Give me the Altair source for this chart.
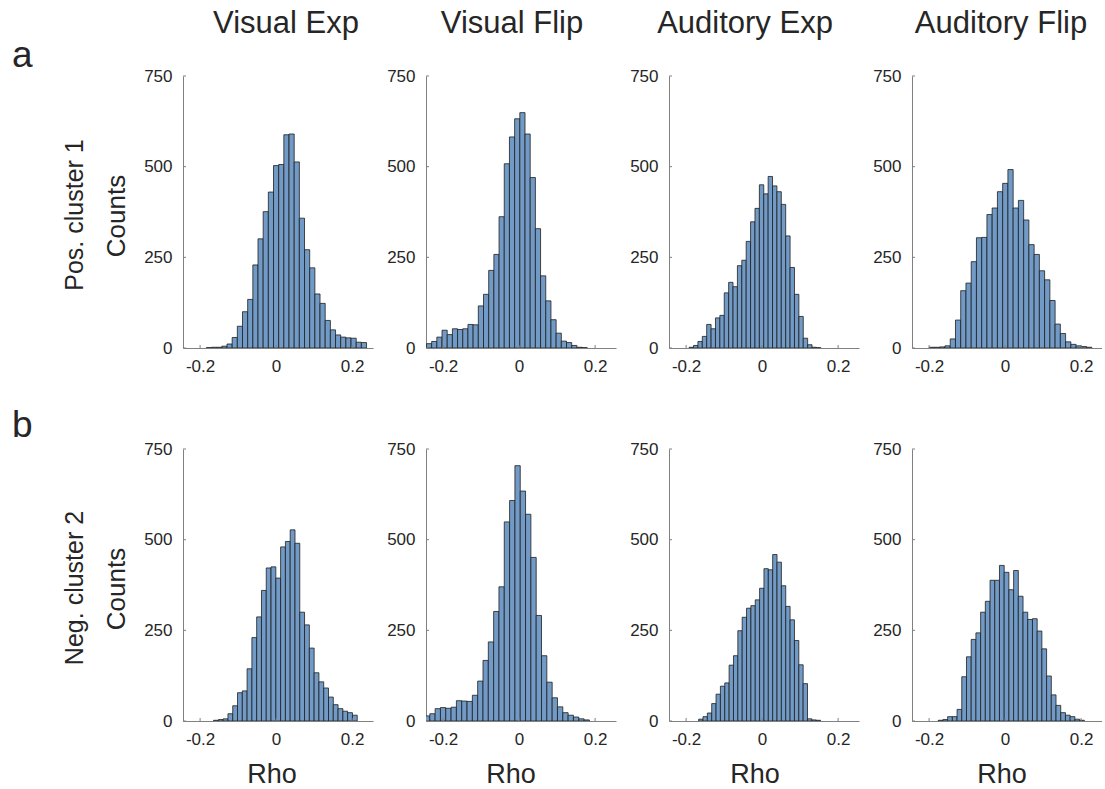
import altair as alt
import numpy as np
import pandas as pd

# ---------------- data ----------------
COLUMNS = ["Visual Exp", "Visual Flip", "Auditory Exp", "Auditory Flip"]
ROWS = ["Pos. cluster 1", "Neg. cluster 2"]
ROW_TAGS = ["a", "b"]
X_TITLE = "Rho"
Y_TITLE = "Counts"
X_TICKS = [-0.2, 0, 0.2]
Y_TICKS = [0, 250, 500, 750]

# Row a: Pos. cluster 1  (first bin edge, bin width, counts)
pos_visual_exp_start, pos_visual_exp_width = -0.1836, 0.0136
pos_visual_exp_counts = [1, 2, 2, 5, 11, 29, 60, 100, 134, 229, 301, 376, 430, 503, 506,
                         588, 590, 513, 358, 271, 221, 149, 123, 76, 50, 36, 30, 28, 27, 16, 15]

pos_visual_flip_start, pos_visual_flip_width = -0.2438, 0.01365
pos_visual_flip_counts = [12, 18, 30, 49, 37, 53, 51, 53, 65, 64, 116, 148, 214, 258, 362, 508,
                          582, 632, 649, 590, 470, 329, 199, 130, 78, 41, 19, 15, 7, 2, 1]

pos_auditory_exp_start, pos_auditory_exp_width = -0.192, 0.01155
pos_auditory_exp_counts = [2, 7, 18, 32, 65, 53, 83, 90, 152, 181, 169, 227, 242, 294, 348,
                           385, 450, 425, 473, 447, 431, 396, 309, 222, 148, 87, 27, 9, 2, 1]

pos_auditory_flip_start, pos_auditory_flip_width = -0.1996, 0.0138
pos_auditory_flip_counts = [2, 2, 3, 6, 25, 77, 158, 179, 238, 304, 305, 368, 386, 431, 454,
                            492, 386, 407, 353, 285, 258, 213, 188, 131, 66, 40, 17, 10, 6, 4, 2]

# Row b: Neg. cluster 2
neg_visual_exp_start, neg_visual_exp_width = -0.1645, 0.0126
neg_visual_exp_counts = [2, 4, 6, 20, 42, 78, 83, 144, 230, 287, 360, 422, 425, 394, 480,
                         495, 527, 490, 300, 265, 201, 133, 108, 91, 66, 45, 34, 27, 23, 16]

neg_visual_flip_start, neg_visual_flip_width = -0.249, 0.014
neg_visual_flip_counts = [14, 20, 34, 37, 35, 38, 56, 55, 54, 71, 110, 167, 218, 302, 370, 549,
                          608, 704, 634, 570, 451, 291, 180, 107, 64, 39, 23, 16, 11, 6, 3]

neg_auditory_exp_start, neg_auditory_exp_width = -0.167, 0.01146
neg_auditory_exp_counts = [5, 12, 22, 48, 74, 96, 105, 154, 180, 249, 286, 311, 318, 334,
                           366, 420, 417, 459, 438, 373, 316, 279, 222, 155, 103, 6, 3, 2]

neg_auditory_flip_start, neg_auditory_flip_width = -0.176, 0.0124
neg_auditory_flip_counts = [2, 4, 12, 12, 32, 122, 177, 225, 243, 300, 330, 388, 388, 429, 410,
                            362, 415, 344, 300, 280, 282, 248, 199, 124, 72, 43, 23, 16, 12, 5, 2]

DATA = [
    [(pos_visual_exp_start, pos_visual_exp_width, pos_visual_exp_counts),
     (pos_visual_flip_start, pos_visual_flip_width, pos_visual_flip_counts),
     (pos_auditory_exp_start, pos_auditory_exp_width, pos_auditory_exp_counts),
     (pos_auditory_flip_start, pos_auditory_flip_width, pos_auditory_flip_counts)],
    [(neg_visual_exp_start, neg_visual_exp_width, neg_visual_exp_counts),
     (neg_visual_flip_start, neg_visual_flip_width, neg_visual_flip_counts),
     (neg_auditory_exp_start, neg_auditory_exp_width, neg_auditory_exp_counts),
     (neg_auditory_flip_start, neg_auditory_flip_width, neg_auditory_flip_counts)],
]

# ---------------- style ----------------
W, H = 190, 272
FONT = "Liberation Sans"
FILL = "#719bc6"
EDGE = "#1e1e1e"
AXIS_GRAY = "#808080"
TEXT = "#262626"
TITLE_X = [103, 86, 76, 89]   # column-title centre, relative to plot left
RHO_X = [89, 85, 86, 90]

xscale = alt.Scale(domain=[-0.245, 0.255], nice=False, zero=False)
yscale = alt.Scale(domain=[0, 750], nice=False, zero=True)

xaxis = alt.Axis(values=X_TICKS, title=None, grid=False, ticks=False, tickSize=0,
                 labelPadding=10, labelFontSize=17, labelColor=TEXT, labelFont=FONT,
                 domainColor=AXIS_GRAY, domainWidth=1, labelFlush=False,
                 labelExpr="datum.value == 0 ? '0' : (datum.value < 0 ? '-' : '') + format(abs(datum.value), '.1f')")
yaxis = alt.Axis(values=Y_TICKS, title=None, grid=False, ticks=False, tickSize=0,
                 labelPadding=11, labelFontSize=17, labelColor=TEXT, labelFont=FONT,
                 domainColor=AXIS_GRAY, domainWidth=1, labelFlush=False)


def text_layer(txt, x, y, size, angle=0, align="center", baseline="alphabetic"):
    return alt.Chart(pd.DataFrame({"t": [txt]})).mark_text(
        align=align, baseline=baseline, angle=angle, fontSize=size, font=FONT, color=TEXT
    ).encode(text="t:N", x=alt.value(x), y=alt.value(y))


def panel(r, c):
    start, width, counts = DATA[r][c]
    df = pd.DataFrame({"count": counts})
    df["x0"] = start + width * np.arange(len(counts))
    df["x1"] = df["x0"] + width
    df["base"] = 0

    bars = alt.Chart(df).mark_bar(fill=FILL, stroke=EDGE, strokeWidth=0.8, clip=True).encode(
        x=alt.X("x0:Q", scale=xscale, axis=xaxis),
        x2="x1:Q",
        y=alt.Y("count:Q", scale=yscale, axis=yaxis),
        y2="base:Q",
    )
    xt = alt.Chart(pd.DataFrame({"v": X_TICKS})).mark_rule(color=AXIS_GRAY, strokeWidth=1).encode(
        x=alt.X("v:Q", scale=xscale, axis=xaxis), y=alt.value(H), y2=alt.value(H - 3))
    yt = alt.Chart(pd.DataFrame({"v": Y_TICKS})).mark_rule(color=AXIS_GRAY, strokeWidth=1).encode(
        y=alt.Y("v:Q", scale=yscale, axis=yaxis), x=alt.value(0), x2=alt.value(3))

    layers = [bars, xt, yt]
    if r == 0:
        layers.append(text_layer(COLUMNS[c], TITLE_X[c], -43, 31))
    if r == 1:
        layers.append(text_layer(X_TITLE, RHO_X[c], 334, 27))
    if c == 0:
        layers.append(text_layer(ROW_TAGS[r], -171, -9 if r == 0 else -12, 37, align="left"))
        layers.append(text_layer(ROWS[r], -108, H / 2 + 3, 25, angle=270, baseline="middle"))
        layers.append(text_layer(Y_TITLE, -66, H / 2 + 4, 26, angle=270, baseline="middle"))
    return alt.layer(*layers).properties(width=W, height=H)


rows = [alt.hconcat(*[panel(r, c) for c in range(4)], spacing=13) for r in range(2)]
chart = alt.vconcat(*rows, spacing=33).properties(
    padding={"left": 12, "top": 8, "right": 0, "bottom": 0}
).configure_view(stroke=None)

chart.save("out.html", embed_options={"renderer": "svg", "actions": False})
